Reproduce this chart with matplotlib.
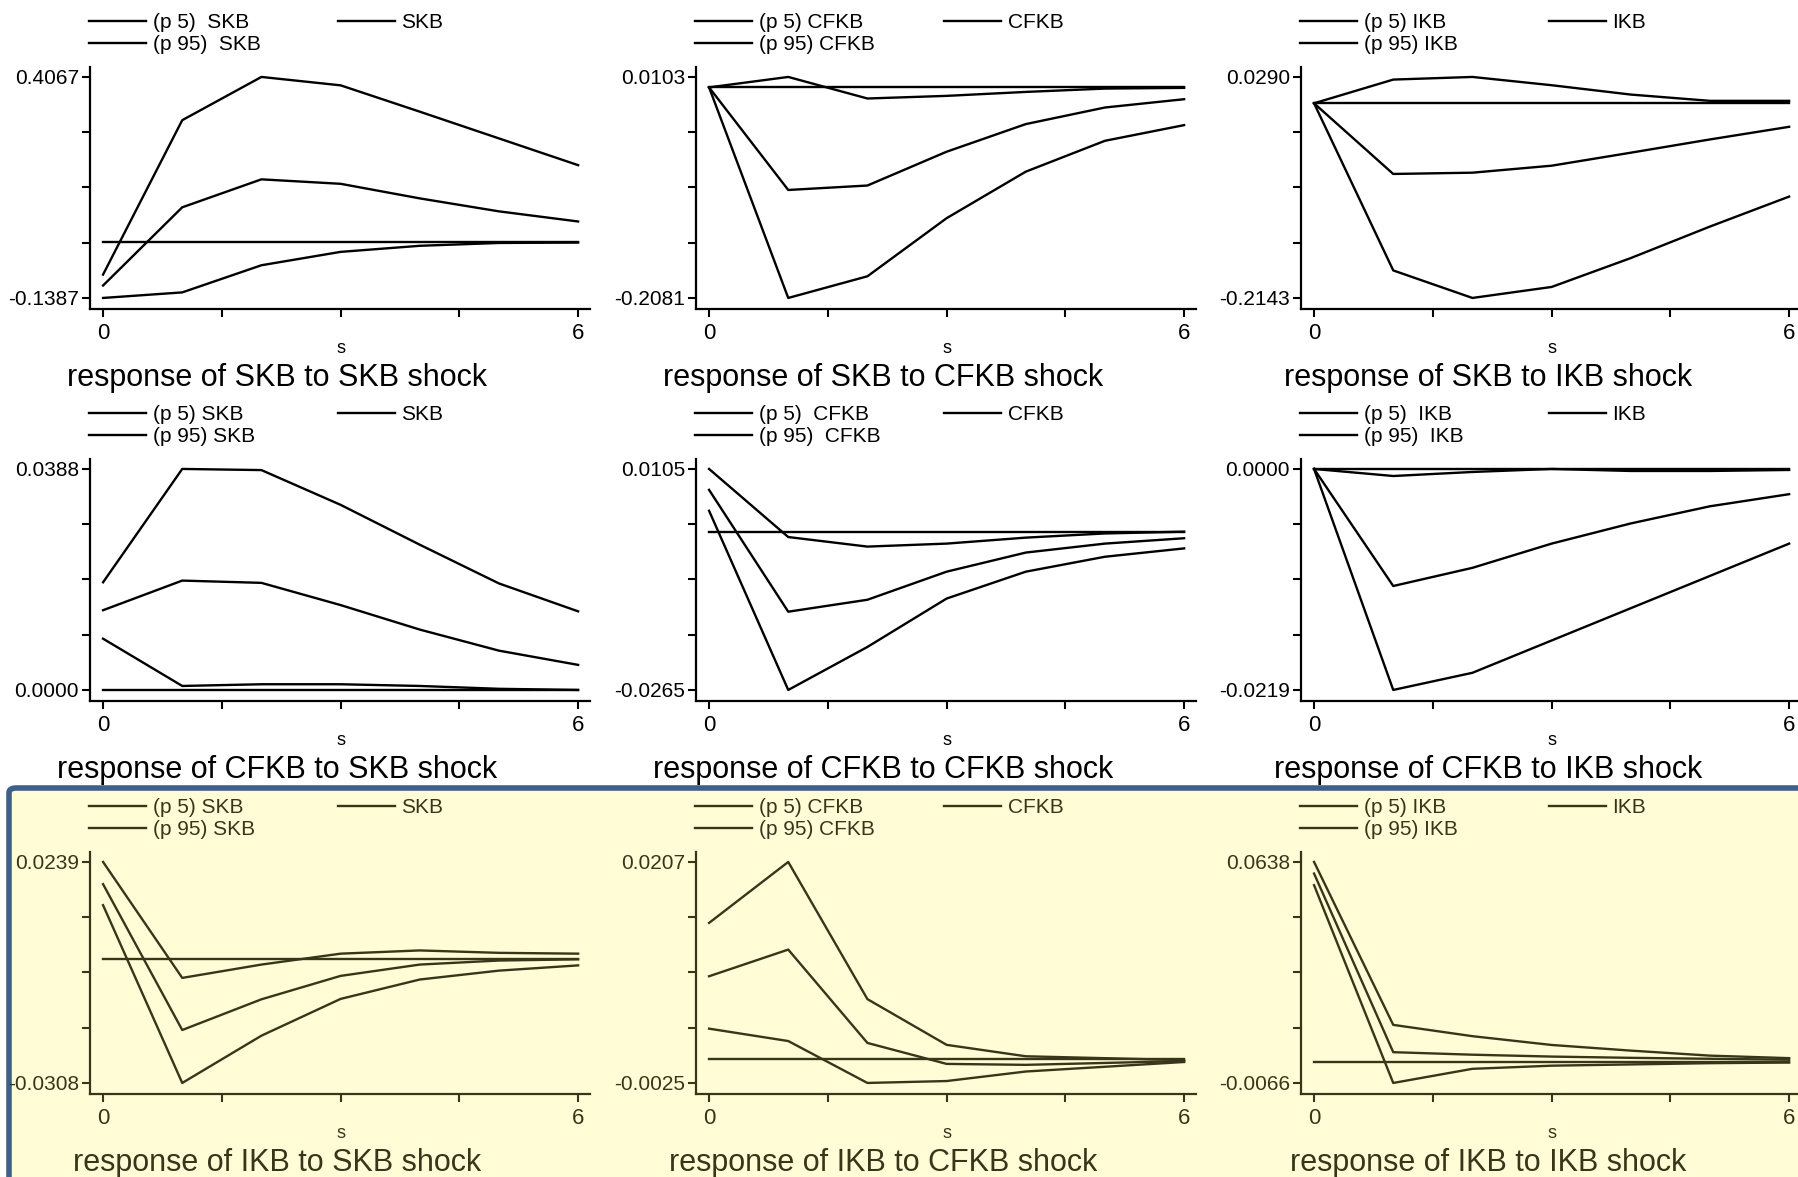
import numpy as np
import matplotlib
matplotlib.use("Agg")
import matplotlib.pyplot as plt
from matplotlib.patches import FancyBboxPatch
from matplotlib.lines import Line2D

plt.rcParams['font.family'] = ['Liberation Sans', 'DejaVu Sans']

# horizon steps
steps = [0, 1, 2, 3, 4, 5, 6]
shocks = ["SKB", "CFKB", "IKB"]

# row = response variable, col = shock variable
# lower band (p 5), point estimate, upper band (p 95)
p5 = [
    [[-0.1387, -0.125, -0.058, -0.025, -0.010, -0.003, -0.002],
     [0.0, -0.2081, -0.1867, -0.1293, -0.0833, -0.0528, -0.0373],
     [0.0, -0.184, -0.2143, -0.2022, -0.1704, -0.1357, -0.1027]],
    [[0.0090, 0.0007, 0.0010, 0.0010, 0.0007, 0.0002, 0.0],
     [0.0035, -0.0265, -0.0193, -0.0112, -0.0067, -0.0042, -0.0028],
     [0.0, -0.0219, -0.0202, -0.0170, -0.0138, -0.0106, -0.0074]],
    [[0.0132, -0.0308, -0.0191, -0.0100, -0.0052, -0.0030, -0.0017],
     [0.0032, 0.0019, -0.0025, -0.0023, -0.0013, -0.0008, -0.0003],
     [0.0564, -0.0066, -0.0021, -0.0011, -0.0007, -0.0003, -0.0001]],
]
irf = [
    [[-0.108, 0.085, 0.154, 0.143, 0.107, 0.075, 0.050],
     [0.0, -0.1014, -0.097, -0.0636, -0.0363, -0.0199, -0.0117],
     [0.0, -0.0778, -0.0764, -0.0687, -0.0544, -0.0398, -0.0259]],
    [[0.0140, 0.0192, 0.0188, 0.0149, 0.0106, 0.0069, 0.0044],
     [0.0070, -0.0134, -0.0114, -0.0067, -0.0035, -0.0020, -0.0011],
     [0.0, -0.0116, -0.0098, -0.0074, -0.0054, -0.0037, -0.0025]],
    [[0.0184, -0.0177, -0.0101, -0.0043, -0.0015, -0.0005, -0.0002],
     [0.0087, 0.0115, 0.0017, -0.0005, -0.0006, -0.0004, -0.0002],
     [0.0601, 0.0032, 0.0024, 0.0018, 0.0014, 0.0011, 0.0008]],
]
p95 = [
    [[-0.081, 0.300, 0.4067, 0.386, 0.321, 0.255, 0.189],
     [0.0, 0.0103, -0.011, -0.0084, -0.0045, -0.0012, -0.0005],
     [0.0, 0.0261, 0.0290, 0.0199, 0.0096, 0.0027, 0.0027]],
    [[0.0189, 0.0388, 0.0386, 0.0325, 0.0255, 0.0187, 0.0138],
     [0.0105, -0.0009, -0.0025, -0.0020, -0.0010, -0.0003, 0.0],
     [0.0, -0.0007, -0.0003, 0.0, -0.0002, -0.0002, -0.0001]],
    [[0.0239, -0.0048, -0.0015, 0.0012, 0.0020, 0.0014, 0.0012],
     [0.0143, 0.0207, 0.0063, 0.0015, 0.0003, 0.0001, -0.0001],
     [0.0638, 0.0119, 0.0083, 0.0055, 0.0037, 0.0021, 0.0013]],
]

# y tick end labels (min, max) for each panel
y_lo = [[-0.1387, -0.2081, -0.2143],
        [0.0000, -0.0265, -0.0219],
        [-0.0308, -0.0025, -0.0066]]
y_hi = [[0.4067, 0.0103, 0.0290],
        [0.0388, 0.0105, 0.0000],
        [0.0239, 0.0207, 0.0638]]

# legend labels as printed (some have a double space)
leg_p5 = [["(p 5)  SKB", "(p 5) CFKB", "(p 5) IKB"],
          ["(p 5) SKB", "(p 5)  CFKB", "(p 5)  IKB"],
          ["(p 5) SKB", "(p 5) CFKB", "(p 5) IKB"]]
leg_p95 = [["(p 95)  SKB", "(p 95) CFKB", "(p 95) IKB"],
           ["(p 95) SKB", "(p 95)  CFKB", "(p 95)  IKB"],
           ["(p 95) SKB", "(p 95) CFKB", "(p 95) IKB"]]

W, H = 1799, 1177
fig = plt.figure(figsize=(W / 100, H / 100), dpi=100)
fig.patch.set_facecolor("white")

# highlighted bottom row
box = FancyBboxPatch((9 / W, -0.05), 1.05, (1177 - 788) / H + 0.05,
                     boxstyle="round,pad=0,rounding_size=0.004",
                     transform=fig.transFigure, facecolor="#fffcd6",
                     edgecolor="#3c5f8e", linewidth=4, zorder=-5)
fig.patches.append(box)

col_left = [90, 696, 1301]
row_top = [67, 459, 852]
ax_w, ax_h = 500, 242
xlo, xhi = -0.165, 6.15

for r in range(3):
    ink = "black" if r < 2 else "#38361a"
    for c in range(3):
        left = col_left[c] / W
        bottom = 1 - (row_top[r] + ax_h) / H
        ax = fig.add_axes([left, bottom, ax_w / W, ax_h / H])
        ax.set_facecolor("none")
        ax.set_zorder(2)

        lo, hi = y_lo[r][c], y_hi[r][c]
        rng = hi - lo
        ax.set_xlim(xlo, xhi)
        ax.set_ylim(lo - 0.05 * rng, hi + 0.045 * rng)

        lw = 1.7
        ax.axhline(0, xmin=-xlo / (xhi - xlo), xmax=(6 - xlo) / (xhi - xlo),
                   color=ink, lw=lw)
        ax.plot(steps, p5[r][c], color=ink, lw=lw)
        ax.plot(steps, irf[r][c], color=ink, lw=lw)
        ax.plot(steps, p95[r][c], color=ink, lw=lw)

        for s in ["top", "right"]:
            ax.spines[s].set_visible(False)
        for s in ["left", "bottom"]:
            ax.spines[s].set_color(ink)
            ax.spines[s].set_linewidth(1.6)

        ax.set_xticks([0, 1.5, 3, 4.5, 6])
        ax.set_xticklabels(["0", "", "", "", "6"])
        ax.set_yticks(np.linspace(lo, hi, 5))
        ax.set_yticklabels(["%.4f" % lo, "", "", "", "%.4f" % hi])
        ax.tick_params(axis="both", direction="out", length=6, width=1.5,
                       colors=ink, labelsize=15)
        ax.tick_params(axis="y", pad=2)
        ax.tick_params(axis="x", pad=4, labelsize=16)

        ax.text(3, -0.165, "s", transform=ax.get_xaxis_transform(),
                ha="center", va="center", fontsize=13, color=ink)
        ax.text(2.2, -0.285, "response of %s to %s shock" % (shocks[r], shocks[c]),
                transform=ax.get_xaxis_transform(), ha="center", va="center",
                fontsize=22, color=ink)

        # legend, two separate blocks
        top_y = 1 - (row_top[r] - 54) / H
        h1 = [Line2D([], [], color=ink, lw=lw), Line2D([], [], color=ink, lw=lw)]
        leg1 = ax.legend(h1, [leg_p5[r][c], leg_p95[r][c]], loc="upper left",
                         bbox_to_anchor=((col_left[c] - 1) / W, top_y),
                         bbox_transform=fig.transFigure, frameon=False,
                         fontsize=15, handlelength=2.75, handletextpad=0.3,
                         labelspacing=0.15, borderpad=0, borderaxespad=0,
                         labelcolor=ink)
        ax.add_artist(leg1)
        ax.legend([Line2D([], [], color=ink, lw=lw)], [shocks[c]],
                  loc="upper left",
                  bbox_to_anchor=((col_left[c] + 248) / W, top_y),
                  bbox_transform=fig.transFigure, frameon=False,
                  fontsize=15, handlelength=2.75, handletextpad=0.3,
                  borderpad=0, borderaxespad=0, labelcolor=ink)

fig.savefig("out.png", dpi=100)
